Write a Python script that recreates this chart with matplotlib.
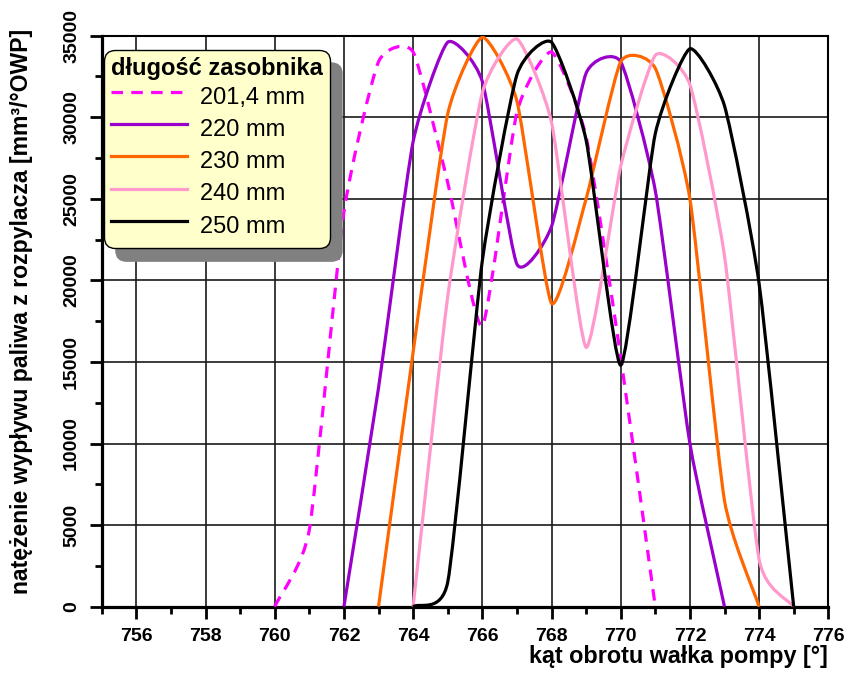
import matplotlib
matplotlib.use("Agg")
import matplotlib.pyplot as plt
import numpy as np
from matplotlib.path import Path
from matplotlib.patches import PathPatch
from matplotlib.lines import Line2D

plt.rcParams['font.family'] = ['Liberation Sans', 'DejaVu Sans']

# injection rate vs. pump shaft angle, one series per accumulator length
labels = ['201,4 mm', '220 mm', '230 mm', '240 mm', '250 mm']
colors = ['#FF00FF', '#9900CC', '#FF6600', '#FF99CC', '#000000']

angle_201 = [760, 761, 762, 763, 764, 765, 766, 767, 768, 769, 770, 771]
rate_201 = [0, 4700, 24200, 33400, 34000, 26000, 17200, 30300, 34000, 28800, 15300, 0]

angle_220 = [762, 763, 764, 765, 766, 767, 768, 769, 770, 771, 772, 773]
rate_220 = [0, 13400, 28500, 34600, 32200, 21000, 23300, 32700, 33400, 25500, 10000, 0]

angle_230 = [763, 764, 765, 766, 767, 768, 769, 770, 771, 772, 773, 774]
rate_230 = [0, 15600, 30200, 34900, 31000, 18600, 25000, 33400, 33000, 25000, 6500, 0]

angle_240 = [764, 765, 766, 767, 768, 769, 770, 771, 772, 773, 774, 775]
rate_240 = [0, 19000, 31500, 34800, 29700, 15900, 27000, 33800, 32000, 21500, 2900, 0]

angle_250 = [764, 765, 766, 767, 768, 769, 770, 771, 772, 773, 774, 775]
rate_250 = [0, 1500, 21200, 32600, 34600, 28600, 14800, 29000, 34200, 30700, 19800, 0]

series = [(angle_201, rate_201), (angle_220, rate_220), (angle_230, rate_230),
          (angle_240, rate_240), (angle_250, rate_250)]

xticks = np.arange(756, 777, 2)
yticks = np.arange(0, 35001, 5000)


def smooth_path(x, y, tension=0.55):
    """Cubic Bezier path through the points (Catmull-Rom style tangents)."""
    x = np.asarray(x, float)
    y = np.asarray(y, float)
    mx = np.gradient(x)
    my = np.gradient(y)
    verts = [(x[0], y[0])]
    codes = [Path.MOVETO]
    for i in range(len(x) - 1):
        verts.append((x[i] + tension * mx[i] / 3, y[i] + tension * my[i] / 3))
        verts.append((x[i + 1] - tension * mx[i + 1] / 3, y[i + 1] - tension * my[i + 1] / 3))
        verts.append((x[i + 1], y[i + 1]))
        codes += [Path.CURVE4] * 3
    return Path(verts, codes)


W, H = 848, 677
fig = plt.figure(figsize=(W / 100, H / 100), dpi=100)
ax = fig.add_axes([101.7 / W, 1 - 606.7 / H, 726.6 / W, 571 / H])

lw = 2.3
dash = (0, (3.6, 2.6))
styles = [dash, '-', '-', '-', '-']

for (x, y), c, ls in zip(series, colors, styles):
    patch = PathPatch(smooth_path(x, y), fill=False, edgecolor=c, lw=lw,
                      linestyle=ls, capstyle='butt', joinstyle='round', zorder=3)
    ax.add_patch(patch)

ax.set_xlim(755, 776)
ax.set_ylim(0, 35000)
ax.set_xticks(xticks)
ax.set_xticks(np.arange(755, 776, 1), minor=True)
ax.set_yticks(yticks)
ax.set_yticks(np.arange(0, 35001, 2500), minor=True)
ax.set_xticklabels([str(v) for v in xticks], fontsize=14, fontweight='bold')
ax.set_yticklabels([str(v) for v in yticks], fontsize=14, fontweight='bold',
                   rotation=90, va='center')

ax.grid(True, which='major', color='#1a1a1a', lw=1.2, zorder=1)
ax.set_axisbelow(True)

ax.tick_params(which='major', direction='out', length=8.5, width=2, pad=7)
ax.tick_params(which='minor', direction='out', length=5, width=2)
ax.tick_params(top=False, right=False)
for side in ['left', 'bottom']:
    ax.spines[side].set_linewidth(2.3)
for side in ['top', 'right']:
    ax.spines[side].set_linewidth(1.5)

ax.set_xlabel('kąt obrotu wałka pompy [°]', loc='right', fontsize=16.8,
              fontweight='bold', labelpad=0)
ax.set_ylabel('natężenie wypływu paliwa z rozpylacza [mm³/°OWP]', fontsize=16.6,
              fontweight='bold')
ax.yaxis.set_label_coords(-0.0945, 0.517)

handles = [Line2D([], [], color=c, lw=lw, linestyle=ls) for c, ls in zip(colors, styles)]
leg = ax.legend(handles, labels, title='długość zasobnika',
                loc='upper left', bbox_to_anchor=(104 / W, 1 - 50 / H),
                bbox_transform=fig.transFigure, borderaxespad=0,
                fontsize=17, title_fontproperties={'weight': 'bold', 'size': 17},
                alignment='left', fancybox=True, facecolor='#FFFFCC',
                edgecolor='black', framealpha=1,
                shadow={'ox': 8.6, 'oy': -9.4, 'facecolor': '#808080',
                        'edgecolor': '#808080', 'alpha': 1},
                handlelength=3.22, handletextpad=0.55, labelspacing=0.0,
                handleheight=1.72, borderpad=0.3)
leg.get_frame().set_boxstyle('round', pad=0, rounding_size=0.45)
leg.get_frame().set_linewidth(1.0)

fig.savefig('out.png', dpi=100)
